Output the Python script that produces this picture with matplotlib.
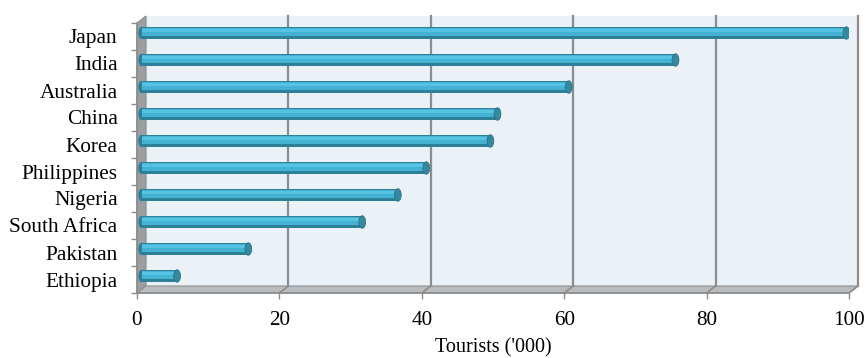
import matplotlib.pyplot as plt
from matplotlib.patches import Polygon, Rectangle, Ellipse

plt.rcParams["font.family"] = ["Liberation Serif", "DejaVu Serif"]

countries = ["Ethiopia", "Pakistan", "South Africa", "Nigeria", "Philippines",
             "Korea", "China", "Australia", "India", "Japan"]
tourists = [5, 15, 31, 36, 40, 49, 50, 60, 75, 99]
x_ticks = [0, 20, 40, 60, 80, 100]


def main():
    fig = plt.figure(figsize=(8.66, 3.58), dpi=100)
    ax = fig.add_axes([137 / 866, 1 - 293 / 358, 712 / 866, 270 / 358])
    ax.set_xlim(0, 100)
    ax.set_ylim(-0.5, 9.5)
    ax.patch.set_alpha(0)
    for s in ax.spines.values():
        s.set_visible(False)

    # depth of the 3d box in data units (about 9px right, 7px up)
    dx, dy = 9 / 7.12, 7 / 27
    y0, y1 = -0.5, 9.5

    # back wall, side wall and floor
    ax.add_patch(Rectangle((dx, y0 + dy), 100, y1 - y0, fc="#eaf2f8", ec="none",
                           clip_on=False, zorder=0))
    ax.add_patch(Polygon([(0, y0), (dx, y0 + dy), (dx, y1 + dy), (0, y1)],
                         closed=True, fc="#9c9fa2", ec="#8a8a8a", lw=0.8,
                         clip_on=False, zorder=1))
    ax.add_patch(Polygon([(0, y0), (100, y0), (100 + dx, y0 + dy), (dx, y0 + dy)],
                         closed=True, fc="#b9bcbf", ec="#8f8f8f", lw=0.8,
                         clip_on=False, zorder=1))

    # gridlines on the back wall and the floor
    for t in x_ticks[1:]:
        ax.plot([t + dx, t + dx], [y0 + dy, y1 + dy], color="#8c8c8c", lw=1.6,
                clip_on=False, zorder=1)
        ax.plot([t, t + dx], [y0, y0 + dy], color="#8c8c8c", lw=1.2,
                clip_on=False, zorder=1)
    ax.plot([0, 100], [y0, y0], color="#8c8c8c", lw=1.2, clip_on=False, zorder=2)
    ax.plot([0, 0], [y0, y1], color="#8c8c8c", lw=1.2, clip_on=False, zorder=2)

    # cylinder bars sitting halfway into the box
    ys = [i + dy / 2 for i in range(len(countries))]
    h = 0.46
    left = dx / 2
    for y, v in zip(ys, tourists):
        ax.add_patch(Ellipse((left, y), 0.9, h, fc="#2e7f98", ec="none", zorder=3))
    ax.barh(ys, tourists, left=left, height=h, color="#2e7f98", zorder=4)
    ax.barh([y + 0.05 for y in ys], tourists, left=left, height=0.30,
            color="#43b2d3", zorder=5)
    ax.barh([y + 0.09 for y in ys], tourists, left=left, height=0.10,
            color="#56c3e2", zorder=6)
    for y, v in zip(ys, tourists):
        ax.add_patch(Ellipse((left + v, y), 0.95, h, fc="#35899f", ec="#2a7389",
                             lw=0.6, zorder=7))

    ax.set_xticks(x_ticks)
    ax.set_xticklabels([str(t) for t in x_ticks])
    ax.tick_params(axis="x", length=4, width=1, color="#8c8c8c", labelsize=15.3,
                   pad=9)
    ax.set_yticks(range(len(countries)))
    ax.set_yticklabels(countries)
    ax.set_yticks([i - 0.5 for i in range(len(countries) + 1)], minor=True)
    ax.tick_params(axis="y", which="major", length=0, labelsize=15.3, pad=14)
    ax.tick_params(axis="y", which="minor", length=4, width=1, color="#8c8c8c")
    ax.set_xlabel("Tourists ('000)", fontsize=14.5, labelpad=6)

    fig.savefig("out.png", dpi=100)


if __name__ == "__main__":
    main()
